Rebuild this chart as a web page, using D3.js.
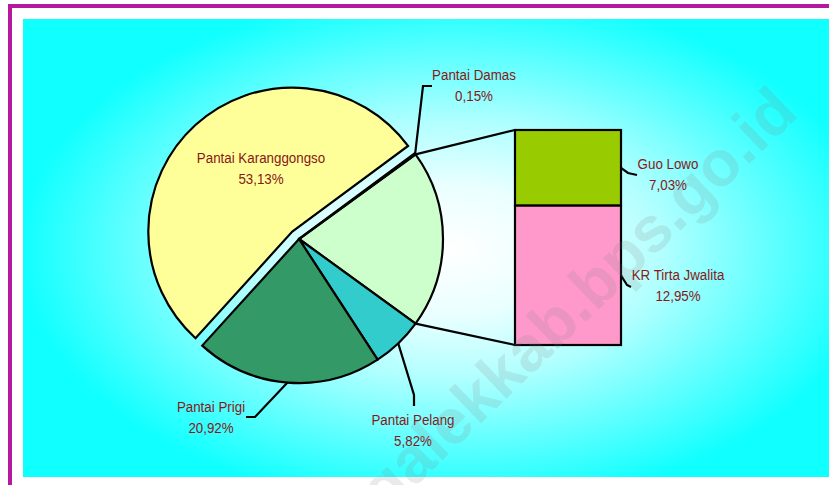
<!DOCTYPE html>
<html><head><meta charset="utf-8">
<script src="https://cdn.jsdelivr.net/npm/d3@7"></script>
<style>html,body{margin:0;padding:0;background:#fff;overflow:hidden}</style>
</head><body><svg id="c" width="829" height="485"></svg>
<script>
// ---- data ----
const barCategories = ["Guo Lowo", "KR Tirta Jwalita"];
const barValues = [7.03, 12.95];
const pieCategories = ["Lainnya", "Pantai Pelang", "Pantai Prigi", "Pantai Karanggongso", "Pantai Damas"];
const pieValuesOwn = [null, 5.82, 20.92, 53.13, 0.15]; // "Lainnya" = sum of bar values
const pieColors = ["#CCFFCC", "#33CCCC", "#339966", "#FFFF99", "#CCCCFF"];
const barColors = ["#99CC00", "#FF99CC"];
const watermark = "trenggalekkab.bps.go.id";

const fmt = v => d3.format(".2f")(v).replace(".", ",") + "%";
const otherTotal = d3.sum(barValues);
const pieData = pieCategories.map((c, i) => ({cat: c, v: i === 0 ? otherTotal : pieValuesOwn[i], color: pieColors[i]}));

const svg = d3.select("#c");
const W = 829, H = 485;
const textColor = "#861818";

// ---- frame & background ----
const defs = svg.append("defs");
const grad = defs.append("radialGradient").attr("id", "bg")
  .attr("gradientUnits", "userSpaceOnUse")
  .attr("cx", 450).attr("cy", 250).attr("r", 430)
  .attr("gradientTransform", "translate(450,250) scale(1,0.6) translate(-450,-250)");
[[0, "#ffffff"], [0.25, "#eaffff"], [0.5, "#b0ffff"], [0.75, "#60ffff"], [1, "#10ffff"]]
  .forEach(([o, c]) => grad.append("stop").attr("offset", o).attr("stop-color", c));

svg.append("rect").attr("x", 0).attr("y", 0).attr("width", W).attr("height", H).attr("fill", "#fff");
svg.append("path").attr("d", `M10,${H} V6 H${W}`).attr("fill", "none")
  .attr("stroke", "#b5199f").attr("stroke-width", 4);
svg.append("rect").attr("x", 23).attr("y", 19).attr("width", W - 23).attr("height", 477 - 19)
  .attr("fill", "url(#bg)");

// ---- pie ----
const cx = 299, cy = 239, R = 144, explode = 10;
const total = d3.sum(pieData, d => d.v);
const start = Math.PI / 2 - (otherTotal / total) * Math.PI;
const pie = d3.pie().sort(null).value(d => d.v).startAngle(start).endAngle(start + 2 * Math.PI);
const arcs = pie(pieData);
const arc = d3.arc().innerRadius(0).outerRadius(R);
const pt = (a, r = R) => [cx + r * Math.sin(a), cy - r * Math.cos(a)];

const g = svg.append("g").attr("transform", `translate(${cx},${cy})`);
g.selectAll("path.slice").data(arcs).join("path")
  .attr("class", "slice")
  .attr("d", arc)
  .attr("fill", d => d.data.color)
  .attr("stroke", "#000").attr("stroke-width", 2.2).attr("stroke-linejoin", "miter")
  .attr("transform", d => {
    if (d.data.cat !== "Pantai Karanggongso") return null;
    const m = (d.startAngle + d.endAngle) / 2;
    return `translate(${explode * Math.sin(m)},${-explode * Math.cos(m)})`;
  });

// ---- bar ----
const bx0 = 515, bx1 = 621, by0 = 130, by1 = 345;
const y = d3.scaleLinear().domain([0, otherTotal]).range([by0, by1]);
let acc = 0;
const barData = barCategories.map((c, i) => { const d = {cat: c, v: barValues[i], y0: acc, y1: acc + barValues[i], color: barColors[i]}; acc += barValues[i]; return d; });

const otherArc = arcs[0];
const line = d3.line();
svg.append("path").attr("d", line([pt(otherArc.startAngle), [bx0, y(0)]]))
  .attr("stroke", "#000").attr("stroke-width", 2.2).attr("fill", "none");
svg.append("path").attr("d", line([pt(otherArc.endAngle), [bx0, y(otherTotal)]]))
  .attr("stroke", "#000").attr("stroke-width", 2.2).attr("fill", "none");

svg.selectAll("rect.bar").data(barData).join("rect").attr("class", "bar")
  .attr("x", bx0).attr("width", bx1 - bx0)
  .attr("y", d => y(d.y0)).attr("height", d => y(d.y1) - y(d.y0))
  .attr("fill", d => d.color).attr("stroke", "#000").attr("stroke-width", 2.2);

// ---- labels ----
function label(x, yb, lines) {
  lines.forEach((t, i) => {
    svg.append("text")
      .attr("transform", `translate(${x},${yb + i * 21}) scale(0.89,1)`)
      .attr("text-anchor", "middle")
      .attr("font-family", "Liberation Sans, Arial, sans-serif")
      .attr("font-size", 15).attr("fill", textColor).text(t);
  });
}
function leader(points) {
  svg.append("path").attr("d", line(points)).attr("fill", "none")
    .attr("stroke", "#000").attr("stroke-width", 2.2);
}
const byCat = {}; arcs.forEach(a => byCat[a.data.cat] = a);
const mid = a => (a.startAngle + a.endAngle) / 2;

// Karanggongso (inside)
label(261, 163, ["Pantai Karanggongso", fmt(byCat["Pantai Karanggongso"].data.v)]);
// Damas
leader([pt(mid(byCat["Pantai Damas"])), [423, 86], [432, 86]]);
label(474, 80, ["Pantai Damas", fmt(byCat["Pantai Damas"].data.v)]);
// Prigi
leader([pt(mid(byCat["Pantai Prigi"])), [255, 417], [246, 417]]);
label(211, 412, ["Pantai Prigi", fmt(byCat["Pantai Prigi"].data.v)]);
// Pelang
leader([pt(mid(byCat["Pantai Pelang"])), [414, 395], [414, 406]]);
label(413, 425, ["Pantai Pelang", fmt(byCat["Pantai Pelang"].data.v)]);
// Bar labels
const gl = barData[0], kr = barData[1];
leader([[bx1, y((gl.y0 + gl.y1) / 2)], [628, 173], [637, 175]]);
label(668, 169, [gl.cat, fmt(gl.v)]);
leader([[bx1, y((kr.y0 + kr.y1) / 2)], [627, 285], [631, 287]]);
label(678, 280, [kr.cat, fmt(kr.v)]);

// ---- watermark ----
svg.append("text")
  .attr("transform", "translate(800,115) rotate(-44)")
  .attr("text-anchor", "end")
  .attr("font-family", "Liberation Sans, Arial, sans-serif")
  .attr("font-weight", "bold").attr("font-size", 64)
  .attr("fill", "#808080").attr("fill-opacity", 0.17)
  .text(watermark);
</script></body></html>
